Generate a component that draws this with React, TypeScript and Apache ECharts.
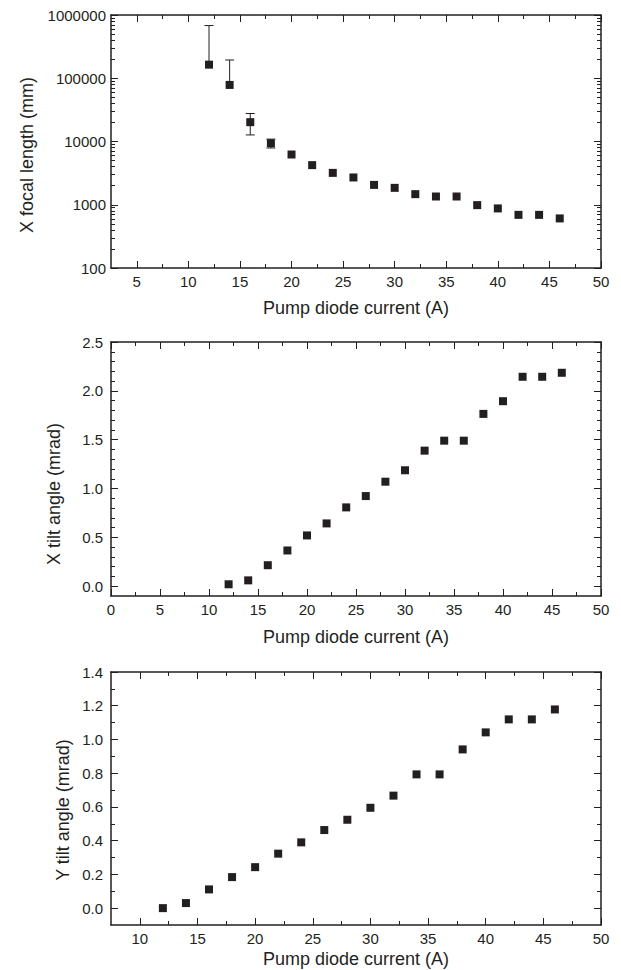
import React, { useEffect, useRef } from "react";
import * as echarts from "echarts";

// ---- data ----
const current = [12, 14, 16, 18, 20, 22, 24, 26, 28, 30, 32, 34, 36, 38, 40, 42, 44, 46];
const focalLength = [164000, 78400, 20200, 9400, 6230, 4230, 3190, 2700, 2060, 1850, 1470, 1350, 1350, 986, 875, 692, 692, 608];
const focalErr = [517000, 116000, 7500, 1500, 0, 0, 0, 0, 0, 0, 0, 0, 0, 0, 0, 0, 0, 0];
const xTilt = [0.02, 0.06, 0.215, 0.366, 0.52, 0.643, 0.807, 0.923, 1.07, 1.187, 1.388, 1.49, 1.49, 1.764, 1.894, 2.144, 2.144, 2.185];
const yTilt = [0.0, 0.03, 0.111, 0.184, 0.243, 0.323, 0.39, 0.463, 0.524, 0.595, 0.667, 0.793, 0.793, 0.941, 1.042, 1.119, 1.119, 1.178];

// ---- ticks ----
const x1Major = [5, 10, 15, 20, 25, 30, 35, 40, 45, 50];
const x1Minor = [7.5, 12.5, 17.5, 22.5, 27.5, 32.5, 37.5, 42.5, 47.5];
const x2Major = [0, 5, 10, 15, 20, 25, 30, 35, 40, 45, 50];
const x2Minor = [2.5, 7.5, 12.5, 17.5, 22.5, 27.5, 32.5, 37.5, 42.5, 47.5];
const x3Major = [10, 15, 20, 25, 30, 35, 40, 45, 50];
const x3Minor = [12.5, 17.5, 22.5, 27.5, 32.5, 37.5, 42.5, 47.5];
const y1Major = [100, 1000, 10000, 100000, 1000000];
const y1Minor = [200, 300, 400, 500, 600, 700, 800, 900, 2000, 3000, 4000, 5000, 6000, 7000, 8000, 9000, 20000, 30000, 40000, 50000, 60000, 70000, 80000, 90000, 200000, 300000, 400000, 500000, 600000, 700000, 800000, 900000];
const y2Major = [0, 0.5, 1.0, 1.5, 2.0, 2.5];
const y2Minor = [0.1, 0.2, 0.3, 0.4, 0.6, 0.7, 0.8, 0.9, 1.1, 1.2, 1.3, 1.4, 1.6, 1.7, 1.8, 1.9, 2.1, 2.2, 2.3, 2.4];
const y3Major = [0, 0.2, 0.4, 0.6, 0.8, 1.0, 1.2, 1.4];
const y3Minor = [0.1, 0.3, 0.5, 0.7, 0.9, 1.1, 1.3];

const xTitle = "Pump diode current (A)";
const yTitles = ["X focal length (mm)", "X tilt angle (mrad)", "Y tilt angle (mrad)"];

const INK = "#231f20";
const FONT = "'Liberation Sans', Arial, sans-serif";

function axisSet(
  dim: "x" | "y",
  grid: number,
  type: string,
  min: number,
  max: number,
  major: number[],
  minor: number[],
  margin: number,
  formatter: (v: number) => string
) {
  const sides = dim === "x" ? ["bottom", "top"] : ["left", "right"];
  const base: any = {
    type,
    gridIndex: grid,
    min,
    max,
    splitLine: { show: false },
    axisLabel: { show: false },
    axisTick: { show: false },
    axisLine: { show: false, onZero: false },
  };
  if (type === "log") base.logBase = 10;
  const out: any[] = [];
  sides.forEach((pos, si) => {
    out.push({
      ...base,
      position: pos,
      axisLine: { show: true, onZero: false, lineStyle: { color: INK, width: 1.5 } },
      axisTick: { show: true, inside: true, length: 7, customValues: major, lineStyle: { color: INK, width: 1 } },
      axisLabel:
        si === 0
          ? {
              show: true,
              customValues: major,
              margin,
              fontSize: 15,
              color: INK,
              fontFamily: FONT,
              formatter,
            }
          : { show: false },
    });
    out.push({
      ...base,
      position: pos,
      axisTick: { show: true, inside: true, length: 4, customValues: minor, lineStyle: { color: INK, width: 1 } },
    });
  });
  return out;
}

export default function App() {
  const ref = useRef<HTMLDivElement>(null);
  useEffect(() => {
    if (!ref.current) return;
    const chart = echarts.init(ref.current, null, { renderer: "svg" });

    const grids = [
      { left: 111, top: 15, width: 490, height: 253 },
      { left: 111, top: 342, width: 490, height: 254 },
      { left: 111, top: 672, width: 490, height: 253 },
    ];

    const fmt1 = (v: number) => String(Math.round(v));
    const fmtX = (v: number) => String(Math.round(v));
    const fmtD = (v: number) => Number(v).toFixed(1);

    const xAxis = [
      ...axisSet("x", 0, "value", 2.5, 50, x1Major, x1Minor, 6, fmtX),
      ...axisSet("x", 1, "value", 0, 50, x2Major, x2Minor, 6, fmtX),
      ...axisSet("x", 2, "value", 7.5, 50, x3Major, x3Minor, 6, fmtX),
    ];
    const yAxis = [
      ...axisSet("y", 0, "log", 100, 1000000, y1Major, y1Minor, 5, fmt1),
      ...axisSet("y", 1, "value", -0.1, 2.5, y2Major, y2Minor, 8, fmtD),
      ...axisSet("y", 2, "value", -0.1, 1.4, y3Major, y3Minor, 8, fmtD),
    ];

    const errData = current
      .map((c, i) => [c, focalLength[i], focalErr[i]])
      .filter((d) => d[2] > 0);

    const sq = { symbol: "rect", symbolSize: 8, itemStyle: { color: INK, opacity: 1 } };

    const titleStyle = { fill: INK, fontSize: 18, fontFamily: FONT, align: "center", verticalAlign: "middle" };

    chart.setOption({
      animation: false,
      backgroundColor: "#ffffff",
      grid: grids,
      xAxis,
      yAxis,
      graphic: [
        { type: "text", x: 356, y: 308, style: { ...titleStyle, text: xTitle } },
        { type: "text", x: 356, y: 637, style: { ...titleStyle, text: xTitle } },
        { type: "text", x: 356, y: 959, style: { ...titleStyle, text: xTitle } },
        { type: "text", x: 27, y: 155, rotation: Math.PI / 2, style: { ...titleStyle, text: yTitles[0] } },
        { type: "text", x: 54, y: 494, rotation: Math.PI / 2, style: { ...titleStyle, text: yTitles[1] } },
        { type: "text", x: 63, y: 810, rotation: Math.PI / 2, style: { ...titleStyle, text: yTitles[2] } },
      ],
      series: [
        {
          type: "custom",
          xAxisIndex: 0,
          yAxisIndex: 0,
          z: 1,
          data: errData,
          renderItem: (params: any, api: any) => {
            const x = api.value(0);
            const y = api.value(1);
            const e = api.value(2);
            const top = api.coord([x, y + e]);
            const hasLow = y - e > 0;
            const low = hasLow ? api.coord([x, y - e]) : api.coord([x, y]);
            const hw = 4.5;
            const st = { stroke: INK, lineWidth: 1 };
            const children: any[] = [
              { type: "line", shape: { x1: top[0], y1: top[1], x2: low[0], y2: low[1] }, style: st },
              { type: "line", shape: { x1: top[0] - hw, y1: top[1], x2: top[0] + hw, y2: top[1] }, style: st },
            ];
            if (hasLow) {
              children.push({ type: "line", shape: { x1: low[0] - hw, y1: low[1], x2: low[0] + hw, y2: low[1] }, style: st });
            }
            return { type: "group", children };
          },
        },
        {
          type: "scatter",
          xAxisIndex: 0,
          yAxisIndex: 0,
          z: 3,
          ...sq,
          data: current.map((c, i) => [c, focalLength[i]]),
        },
        {
          type: "scatter",
          xAxisIndex: 4,
          yAxisIndex: 4,
          z: 3,
          ...sq,
          data: current.map((c, i) => [c, xTilt[i]]),
        },
        {
          type: "scatter",
          xAxisIndex: 8,
          yAxisIndex: 8,
          z: 3,
          ...sq,
          data: current.map((c, i) => [c, yTilt[i]]),
        },
      ],
    });
    return () => chart.dispose();
  }, []);

  return (
    <div
      ref={ref}
      style={{ position: "fixed", left: 0, top: 0, width: 621, height: 970, background: "#fff" }}
    />
  );
}
